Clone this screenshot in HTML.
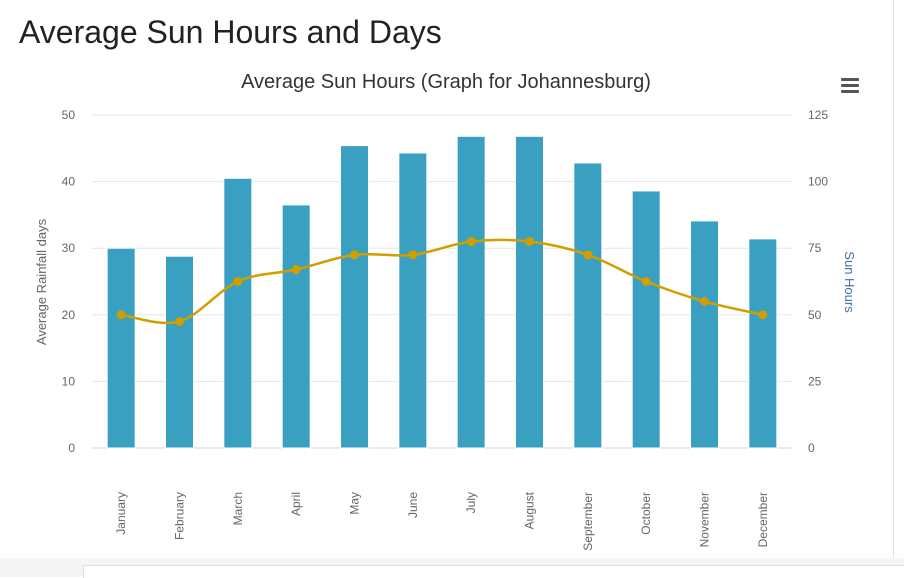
<!DOCTYPE html>
<html><head><meta charset="utf-8"><style>
body{margin:0;width:904px;height:577px;background:#fff;font-family:"Liberation Sans",sans-serif;overflow:hidden;position:relative}
h1{position:absolute;left:19px;top:14px;margin:0;font-weight:normal;font-size:32px;color:#222}
</style></head><body>
<h1>Average Sun Hours and Days</h1>
<div style="position:absolute;left:0;top:558px;width:904px;height:19px;background:#f5f5f5"></div>
<div style="position:absolute;left:83px;top:565px;width:821px;height:12px;background:#fff;border-top:1px solid #ddd;border-left:1px solid #ddd"></div>
<div style="position:absolute;left:893px;top:0;width:1px;height:558px;background:#e0e0e0"></div>
<svg id="chart" width="904" height="577" style="position:absolute;left:0;top:0">
<text x="446" y="88" text-anchor="middle" font-size="20" fill="#333">Average Sun Hours (Graph for Johannesburg)</text>
<g fill="#555">
<rect x="841" y="78" width="18" height="3" rx="1"/><rect x="841" y="84" width="18" height="3" rx="1"/><rect x="841" y="90" width="18" height="3" rx="1"/></g>
<text transform="translate(46,282) rotate(-90)" text-anchor="middle" font-size="13" fill="#666">Average Rainfall days</text>
<text transform="translate(845,282) rotate(90)" text-anchor="middle" font-size="13" fill="#4572a7">Sun Hours</text>
</svg>
<script>
const categories=["January","February","March","April","May","June","July","August","September","October","November","December"];
const rainfallDays=[30,28.8,40.5,36.5,45.4,44.3,46.8,46.8,42.8,38.6,34.1,31.4];
const sunHours=[50,47.5,62.5,67,72.5,72.5,77.5,77.5,72.5,62.5,55,50];
const leftTicks=[0,10,20,30,40,50];
const rightTicks=[0,25,50,75,100,125];
const NS="http://www.w3.org/2000/svg";
const svg=document.getElementById('chart');
const X0=92,X1=792,Y0=448,Y1=115;
const bw=(X1-X0)/categories.length;
const yL=v=>Y0-(v/50)*(Y0-Y1);
const yR=v=>Y0-(v/125)*(Y0-Y1);
const xC=i=>X0+bw*(i+0.5);
function mk(t,a){const e=document.createElementNS(NS,t);for(const k in a)e.setAttribute(k,a[k]);svg.appendChild(e);return e;}
leftTicks.forEach((v,i)=>{
 const g=mk('line',{x1:X0,x2:X1,y1:yL(v),y2:yL(v),stroke:i===0?'#ccd6eb':'#e6e6e6','stroke-width':1});
 
 
 const t=mk('text',{x:75,y:yL(v)+4,'text-anchor':'end','font-size':12,fill:'#666'});t.textContent=v;
 
 
});
rightTicks.forEach(v=>{
 const t=mk('text',{x:808,y:yR(v)+4,'font-size':12,fill:'#666'});t.textContent=v;
 
 
});
rainfallDays.forEach((v,i)=>{
 const r=mk('rect',{x:xC(i)-14,y:yL(v),width:28,height:Y0-yL(v),fill:'#3aa0c2',stroke:'#fff','stroke-width':1});
 
 
});
categories.forEach((c,i)=>{
 const t=mk('text',{transform:`translate(${xC(i)+4},492) rotate(-90)`,'text-anchor':'end','font-size':12,fill:'#666'});t.textContent=c;
 
 
});
const pts=sunHours.map((v,i)=>[xC(i),yR(v)]);
let d=`M${pts[0][0]},${pts[0][1]}`;
for(let i=0;i<pts.length-1;i++){
 const p0=pts[Math.max(0,i-1)],p1=pts[i],p2=pts[i+1],p3=pts[Math.min(pts.length-1,i+2)];
 const s=1/6;
 d+=` C${p1[0]+(p2[0]-p0[0])*s},${p1[1]+(p2[1]-p0[1])*s} ${p2[0]-(p3[0]-p1[0])*s},${p2[1]-(p3[1]-p1[1])*s} ${p2[0]},${p2[1]}`;
}
const ln=mk('path',{d:d,fill:'none',stroke:'#d19e00','stroke-width':2.5});


pts.forEach((p,i)=>{
 const c=mk('circle',{cx:p[0],cy:p[1],r:4.5,fill:'#d19e00'});
 
 
});
</script>
</body></html>
